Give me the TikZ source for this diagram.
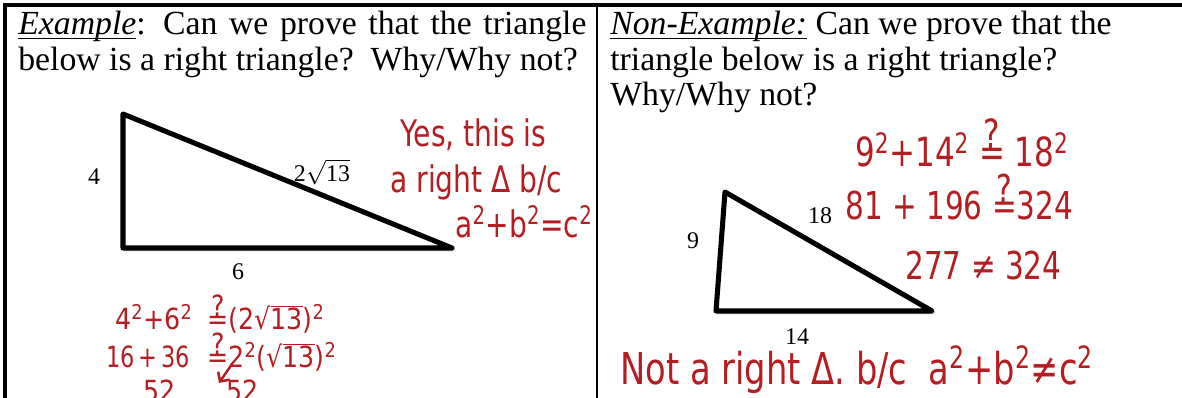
\documentclass[tikz,border=0pt]{standalone}
\usepackage{fontspec}
\setmainfont{Liberation Serif}
\newfontfamily\handfont{DejaVu Sans}
\usetikzlibrary{arrows.meta,shadows.blur}
\definecolor{border}{HTML}{000000}
\definecolor{handRed}{HTML}{B41E22}
\tikzset{
  cellline/.style={draw=border, line width=2.2pt},
  midline/.style={draw=border, line width=1.6pt},
  heading/.style={anchor=base west, inner sep=0pt,
    font=\fontsize{24}{25}\selectfont},
  tri/.style={draw=black, line width=3.6pt, line join=round, fill=white,
    blur shadow={shadow xshift=1.5pt, shadow yshift=-1.5pt, shadow opacity=30}},
  side/.style={font=\fontsize{17}{20}\selectfont, inner sep=0pt},
  hand/.style={text=handRed, anchor=base west, inner sep=0pt,
    font=\handfont\fontsize{20}{22}\selectfont},
  calc/.style={hand, font=\handfont\fontsize{18}{20}\selectfont},
  handarrow/.style={-{Straight Barb[length=5pt]}, draw=handRed, line width=1.8pt, line cap=round},
}
\newcommand{\qeq}{\shortstack{?\\[-3pt]=}}
\newcommand{\sq}{\textsuperscript{2}}
\newcommand{\rt}[1]{√$\overline{\mbox{#1}}$}
\newcommand{\hw}[1]{\scalebox{1}[1.3]{#1}}
\newcommand{\hwc}[1]{\scalebox{1}[1.15]{#1}}
\newcommand{\ul}[1]{\setbox0\hbox{#1}\rlap{\rule[-3.2pt]{\wd0}{0.9pt}}\box0\relax}

\begin{document}
\begin{tikzpicture}[x=0.025cm, y=-0.025cm]

  \useasboundingbox (0,0) rectangle (1182,398);

  % table frame
  \draw[cellline] (5,398) -- (5,5) -- (1182,5);
  \draw[midline] (597,5) -- (597,398);

  % headings
  \node[heading] (headL1) at (18,35)
    {\makebox[14.2cm][s]{\ul{\textit{Example}}: Can we prove that the triangle}};
  \node[heading] (headL2) at (18,70.5) {below is a right triangle?\ \ Why/Why not?};
  \node[heading] (headR1) at (610,35) {\ul{\textit{Non-Example:}} Can we prove that the};
  \node[heading] (headR2) at (610,70.5) {triangle below is a right triangle?};
  \node[heading] (headR3) at (610,106) {Why/Why not?};

  % example triangle
  \coordinate (topL) at (123,114);
  \coordinate (cornerL) at (123,248);
  \coordinate (tipL) at (452,248);
  \draw[tri] (topL) -- (cornerL) -- (tipL) -- cycle;
  \node[side] (four) at (94,177) {4};
  \node[side] (hypL) at (322,172) {2$\sqrt{\mbox{13}}$};
  \node[side] (six) at (238,272) {6};

  % non-example triangle
  \coordinate (topR) at (725,192);
  \coordinate (cornerR) at (716,311);
  \coordinate (tipR) at (932,311);
  \draw[tri] (topR) -- (cornerR) -- (tipR) -- cycle;
  \node[side] (nine) at (693,241) {9};
  \node[side] (hypR) at (820,216) {18};
  \node[side] (fourteen) at (797,337) {14};

  % handwriting, example
  \node[hand] (yes) at (400,147) {\hw{Yes, this is}};
  \node[hand] (because) at (390,193) {\hw{a right Δ\ b/c}};
  \node[hand] (pyth) at (455,238) {\hw{a\sq+b\sq=c\sq}};
  \node[calc] (sumL) at (115,330) {\hwc{4\sq+6\sq}};
  \node[calc] (eqL) at (207,330) {\hwc{\qeq(2\rt{13})\sq}};
  \node[calc, font=\handfont\fontsize{16}{18}\selectfont] (numL) at (106,368) {\hw{16\,+\,36}};
  \node[calc] (stepL) at (207,368) {\hwc{\qeq2\sq(\rt{13})\sq}};
  \node[calc] (resA) at (143,402) {\hwc{52}};
  \node[calc] (resB) at (226,402) {\hwc{52}};
  \draw[handarrow] (stepL.south west) ++(25,-8) coordinate (arrowStart)
    -- ([xshift=-5pt, yshift=-2pt]resB.north west);

  % handwriting, non-example
  \node[hand, font=\handfont\fontsize{22}{24}\selectfont] (sqR) at (855,167) {\hw{9\sq+14\sq\ \qeq\ 18\sq}};
  \node[hand, font=\handfont\fontsize{21}{23}\selectfont] (numR) at (845,220) {\hw{81 + 196 \qeq324}};
  \node[hand, font=\handfont\fontsize{21}{23}\selectfont] (neq) at (905,280) {\hw{277 ≠ 324}};
  \node[hand, font=\handfont\fontsize{24}{26}\selectfont] (notR) at (620,385)
    {\hw{Not a right Δ.\ b/c\ \ a\sq+b\sq≠c\sq}};

\end{tikzpicture}
\end{document}
